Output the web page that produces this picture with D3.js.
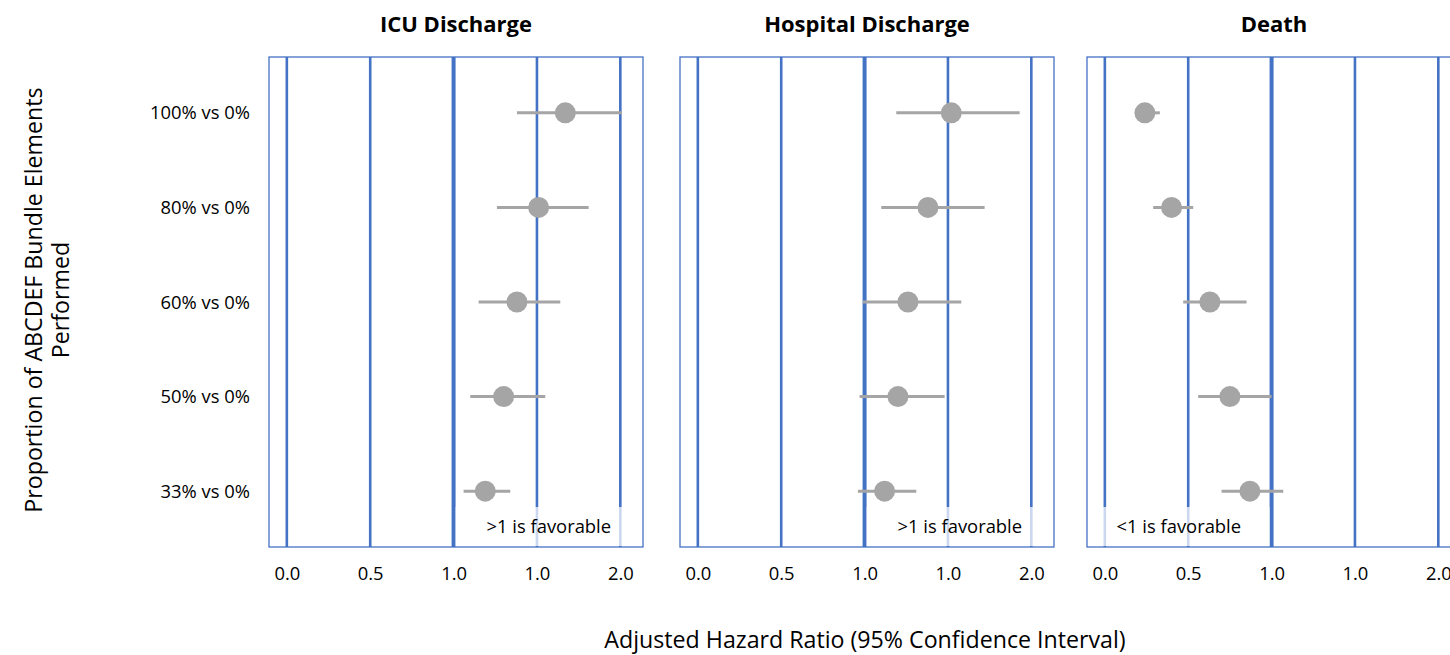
<!DOCTYPE html>
<html>
<head>
<meta charset="utf-8">
<script src="https://cdn.jsdelivr.net/npm/d3@7"></script>
<style>
  html, body { margin: 0; padding: 0; background: #fff; }
  svg text { font-family: "Open Sans", Lato, "Liberation Sans", sans-serif; fill: #000; }
</style>
</head>
<body>
<svg id="chart" width="1450" height="655"></svg>
<script>
// Comparisons (rows, top to bottom)
const categories = ["100% vs 0%", "80% vs 0%", "60% vs 0%", "50% vs 0%", "33% vs 0%"];

// Panel titles and favourable-direction notes
const outcomes = ["ICU Discharge", "Hospital Discharge", "Death"];
const notes = [">1 is favorable", ">1 is favorable", "<1 is favorable"];

// Adjusted hazard ratios with 95% CI bounds, one array per outcome
const icuHR   = [1.67, 1.51, 1.38, 1.30, 1.19];
const icuLo   = [1.38, 1.26, 1.15, 1.10, 1.06];
const icuHi   = [2.01, 1.81, 1.64, 1.55, 1.34];

const hospHR  = [1.52, 1.38, 1.26, 1.20, 1.12];
const hospLo  = [1.19, 1.10, 0.99, 0.97, 0.96];
const hospHi  = [1.93, 1.72, 1.58, 1.48, 1.31];

const deathHR = [0.24, 0.40, 0.63, 0.75, 0.87];
const deathLo = [0.19, 0.29, 0.47, 0.56, 0.70];
const deathHi = [0.33, 0.53, 0.85, 1.00, 1.07];

// Axis ticks and their printed labels
const tickValues = [0, 0.5, 1, 1.5, 2];
const tickLabels = ["0.0", "0.5", "1.0", "1.0", "2.0"];

const series = [
  { hr: icuHR,   lo: icuLo,   hi: icuHi },
  { hr: hospHR,  lo: hospLo,  hi: hospHi },
  { hr: deathHR, lo: deathLo, hi: deathHi }
];

const svg = d3.select("#chart");
const blue = "#4472C4";
const grey = "#A5A5A5";
const fs = 18.4;         // body text size
const fsPanel = 22;      // panel title size
const fsAxis = 23.2;     // axis title size

const panelW = 374, panelTop = 57, panelBottom = 547, panelLefts = [269, 680, 1087];

const x = d3.scaleLinear().domain([-0.107, 2.136]).range([0, panelW]);
const y = d3.scalePoint().domain(categories).range([panelTop, panelBottom]).padding(0.59);

outcomes.forEach((title, i) => {
  const g = svg.append("g").attr("transform", `translate(${panelLefts[i]},0)`);
  const s = series[i];

  // Vertical gridlines
  g.selectAll("line.grid").data(tickValues).enter().append("line")
    .attr("class", "grid")
    .attr("x1", d => x(d)).attr("x2", d => x(d))
    .attr("y1", panelTop).attr("y2", panelBottom)
    .attr("stroke", blue)
    .attr("stroke-width", d => d === 1 ? 4 : 2.6);

  // Note box at the bottom, on the favourable side of 1
  const favRight = notes[i].startsWith(">");
  const bx0 = favRight ? x(1) + 2 : 1;
  const bx1 = favRight ? panelW - 1 : x(1) - 2;
  g.append("rect")
    .attr("x", bx0).attr("y", panelBottom - 40)
    .attr("width", bx1 - bx0).attr("height", 39)
    .attr("fill", "#fff").attr("fill-opacity", 0.72);
  g.append("text")
    .attr("x", (bx0 + bx1) / 2).attr("y", panelBottom - 14)
    .attr("text-anchor", "middle")
    .attr("font-size", fs)
    .text(notes[i]);

  // Panel frame
  g.append("rect")
    .attr("x", 0).attr("y", panelTop)
    .attr("width", panelW).attr("height", panelBottom - panelTop)
    .attr("fill", "none").attr("stroke", blue).attr("stroke-width", 1.3);

  // Confidence intervals
  g.selectAll("line.ci").data(categories).enter().append("line")
    .attr("class", "ci")
    .attr("x1", (d, k) => x(s.lo[k])).attr("x2", (d, k) => x(s.hi[k]))
    .attr("y1", d => y(d)).attr("y2", d => y(d))
    .attr("stroke", grey).attr("stroke-width", 3);

  // Point estimates
  g.selectAll("circle.pt").data(categories).enter().append("circle")
    .attr("class", "pt")
    .attr("cx", (d, k) => x(s.hr[k])).attr("cy", d => y(d))
    .attr("r", 10.5).attr("fill", grey);

  // X axis labels
  const axis = d3.axisBottom(x).tickValues(tickValues)
    .tickFormat((d, k) => tickLabels[k]).tickSize(0).tickPadding(0);
  const ax = g.append("g").attr("transform", `translate(0,${panelBottom})`).call(axis);
  ax.select(".domain").remove();
  ax.selectAll("text").attr("dy", null).attr("y", 33)
    .attr("font-size", fs).style("font-family", "'Open Sans', Lato, sans-serif").attr("fill", "#000");

  // Panel title
  g.append("text")
    .attr("x", panelW / 2).attr("y", 32)
    .attr("text-anchor", "middle")
    .attr("font-size", fsPanel).attr("font-weight", "bold")
    .text(title);
});

// Row labels
svg.append("g").selectAll("text").data(categories).enter().append("text")
  .attr("x", 250).attr("y", d => y(d) + 6.5)
  .attr("text-anchor", "end")
  .attr("font-size", fs)
  .text(d => d);

// Y axis title (two lines)
const yt = svg.append("text")
  .attr("transform", "translate(48,300) rotate(-90)")
  .attr("text-anchor", "middle")
  .attr("font-size", fsAxis);
yt.append("tspan").attr("x", 0).attr("dy", -6).text("Proportion of ABCDEF Bundle Elements");
yt.append("tspan").attr("x", 0).attr("dy", 27).text("Performed");

// X axis title
svg.append("text")
  .attr("x", 865).attr("y", 648)
  .attr("text-anchor", "middle")
  .attr("font-size", fsAxis)
  .text("Adjusted Hazard Ratio (95% Confidence Interval)");
</script>
</body>
</html>
